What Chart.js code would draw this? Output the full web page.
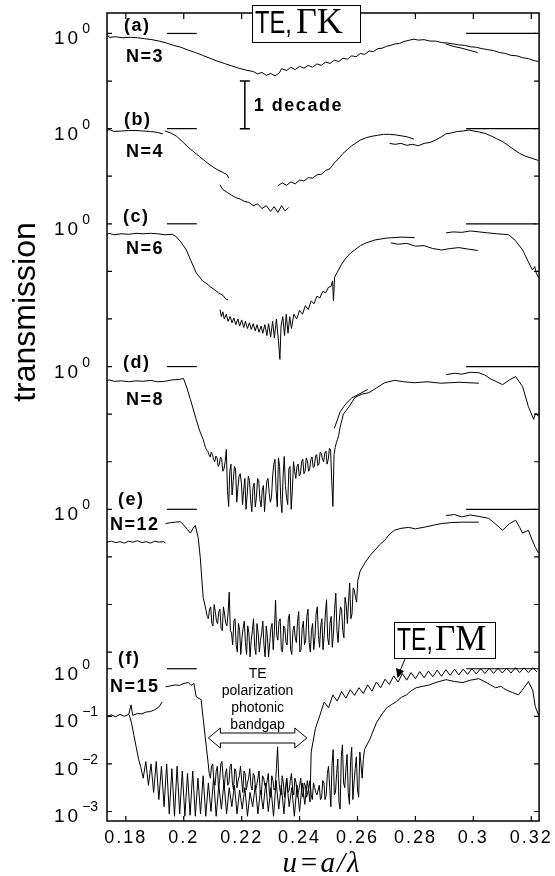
<!DOCTYPE html>
<html>
<head>
<meta charset="utf-8">
<script src="https://cdn.jsdelivr.net/npm/chart.js@4.4.1/dist/chart.umd.min.js"></script>
<style>
  html, body { margin: 0; padding: 0; background: #fff; }
  canvas { display: block; background: #fff; }
</style>
</head>
<body>
<canvas id="myChart" width="555" height="876"></canvas>
<script>
// x axis: normalized frequency u = a/lambda
const xTickVals = [0.18, 0.2, 0.22, 0.24, 0.26, 0.28, 0.3, 0.32];
// y axis is log10(transmission); each panel is shifted by whole decades
const panelTags = ['(a)', '(b)', '(c)', '(d)', '(e)', '(f)'];
const panelN = ['N=3', 'N=4', 'N=6', 'N=8', 'N=12', 'N=15'];
const panelBase = [13.35, 11.35, 9.35, 6.35, 3.35, 0];
const yTickVals = [-3, -2, -1, 0, 0.35, 1.35, 2.35, 3.35, 4.35, 5.35, 6.35, 7.35, 8.35, 9.35, 10.35, 11.35, 12.35, 13.35];
const yLabelVals = [-3, -2, -1, 0, 3.35, 6.35, 9.35, 11.35, 13.35];
const yLabelExp = ['\u22123', '\u22122', '\u22121', '0', '0', '0', '0', '0', '0'];
// short marks at 10^0 in every panel
const refLeft = [0.1942, 0.2045];
const refRight = [0.2975, 0.3215];

// (a) N=3
const aK1 = [[0.1735,-0.02],[0.1742,-0.08],[0.1765,-0.07],[0.179,-0.09],[0.1815,-0.08],[0.184,-0.09],[0.1865,-0.11],[0.189,-0.13],[0.1915,-0.16],[0.194,-0.20],[0.1965,-0.25],[0.199,-0.29],[0.2015,-0.35],[0.204,-0.40],[0.2065,-0.46],[0.209,-0.52],[0.2115,-0.58],[0.214,-0.63],[0.2165,-0.68],[0.219,-0.73],[0.2215,-0.77],[0.224,-0.80],[0.2255,-0.85],[0.227,-0.82],[0.2285,-0.88],[0.230,-0.84],[0.2315,-0.89],[0.233,-0.83],[0.2338,-0.74],[0.2355,-0.78],[0.237,-0.71],[0.2385,-0.76],[0.240,-0.69],[0.2415,-0.73],[0.243,-0.67],[0.2445,-0.71],[0.246,-0.64],[0.2475,-0.67],[0.249,-0.60],[0.2505,-0.63],[0.252,-0.56],[0.2535,-0.59],[0.255,-0.52],[0.2565,-0.54],[0.258,-0.47],[0.2595,-0.49],[0.261,-0.42],[0.2625,-0.44],[0.264,-0.37],[0.2655,-0.38],[0.267,-0.32],[0.2685,-0.31],[0.270,-0.27],[0.2715,-0.25],[0.273,-0.22],[0.2745,-0.21],[0.276,-0.17],[0.278,-0.14],[0.2795,-0.12],[0.281,-0.14],[0.283,-0.13],[0.285,-0.16],[0.287,-0.16],[0.289,-0.19],[0.291,-0.20],[0.293,-0.22],[0.295,-0.24],[0.297,-0.25],[0.299,-0.28],[0.301,-0.29],[0.303,-0.32],[0.305,-0.34],[0.307,-0.36],[0.309,-0.40],[0.311,-0.42],[0.313,-0.46],[0.315,-0.47],[0.317,-0.51],[0.319,-0.53],[0.321,-0.57],[0.3225,-0.59]];
const aK2 = [[0.2905,-0.22],[0.293,-0.27],[0.296,-0.31],[0.299,-0.36],[0.3015,-0.40]];

// (b) N=4
const bK1 = [[0.1735,-0.05],[0.1742,-0.02],[0.176,-0.06],[0.1785,-0.05],[0.181,-0.04],[0.1835,-0.04],[0.186,-0.05],[0.1885,-0.06],[0.191,-0.08],[0.1928,-0.11]];
const bK2 = [[0.1935,-0.05],[0.1955,-0.09],[0.1975,-0.16],[0.1995,-0.27],[0.2015,-0.39],[0.2035,-0.49],[0.2055,-0.59],[0.2075,-0.69],[0.2095,-0.78],[0.2115,-0.86],[0.2135,-0.92],[0.215,-0.97],[0.2155,-1.04]];
const bK3 = [[0.2125,-1.18],[0.2135,-1.28],[0.215,-1.34],[0.2165,-1.40],[0.218,-1.45],[0.2195,-1.48],[0.221,-1.53],[0.2225,-1.55],[0.224,-1.62],[0.2255,-1.58],[0.227,-1.68],[0.2285,-1.62],[0.230,-1.74],[0.2312,-1.64],[0.2325,-1.76],[0.2338,-1.62],[0.235,-1.73],[0.2362,-1.66]];
const bK4 = [[0.2325,-1.20],[0.234,-1.14],[0.2355,-1.19],[0.237,-1.12],[0.2385,-1.16],[0.240,-1.08],[0.2415,-1.10],[0.243,-1.03],[0.2445,-1.04],[0.246,-0.97],[0.2475,-0.96],[0.249,-0.88],[0.2505,-0.84],[0.252,-0.72],[0.2535,-0.63],[0.255,-0.52],[0.2565,-0.44],[0.258,-0.36],[0.2595,-0.30],[0.261,-0.24],[0.263,-0.19],[0.265,-0.16],[0.267,-0.14],[0.269,-0.12],[0.271,-0.12],[0.273,-0.13],[0.275,-0.15],[0.277,-0.17],[0.2795,-0.22]];
const bK5 = [[0.2711,-0.31],[0.273,-0.33],[0.275,-0.31],[0.277,-0.35],[0.279,-0.33],[0.281,-0.36],[0.283,-0.31],[0.285,-0.29],[0.287,-0.24],[0.289,-0.17],[0.2905,-0.11],[0.2925,-0.09],[0.2945,-0.06],[0.2965,-0.05],[0.2985,-0.03],[0.300,-0.05],[0.302,-0.07],[0.304,-0.10],[0.306,-0.15],[0.308,-0.21],[0.310,-0.27],[0.312,-0.35],[0.314,-0.44],[0.316,-0.52],[0.318,-0.58],[0.320,-0.62],[0.3225,-0.67]];

// (c) N=6
const cK1 = [[0.1735,-0.23],[0.1742,-0.20],[0.176,-0.23],[0.1785,-0.21],[0.181,-0.22],[0.1835,-0.20],[0.186,-0.21],[0.1885,-0.20],[0.191,-0.21],[0.1935,-0.23],[0.196,-0.22],[0.1972,-0.26],[0.199,-0.38],[0.2009,-0.55],[0.2025,-0.78],[0.2043,-1.03],[0.2065,-1.20],[0.208,-1.26],[0.2091,-1.32],[0.2105,-1.38],[0.212,-1.45],[0.2135,-1.50],[0.2145,-1.58],[0.2153,-1.60]];
const cK2 = [[0.2125,-1.80],[0.2130,-1.95],[0.2135,-1.85],[0.2140,-2.00],[0.2147,-1.90],[0.2153,-2.05],[0.2160,-1.95],[0.2167,-2.08],[0.2173,-1.98],[0.2180,-2.12],[0.2187,-2.00],[0.2193,-2.15],[0.2200,-2.02],[0.2207,-2.18],[0.2213,-2.05],[0.2220,-2.20],[0.2227,-2.08],[0.2233,-2.22],[0.2240,-2.10],[0.2247,-2.25],[0.2253,-2.12],[0.2260,-2.28],[0.2267,-2.15],[0.2273,-2.30],[0.2280,-2.12],[0.2287,-2.35],[0.2293,-2.10],[0.2300,-2.38],[0.2307,-2.05],[0.2313,-2.40],[0.2320,-2.00],[0.2327,-2.45],[0.2332,-2.85],[0.2336,-2.15],[0.2342,-1.95],[0.2348,-2.35],[0.2354,-1.90],[0.2360,-2.30],[0.2366,-1.95],[0.2372,-2.20],[0.2380,-1.90],[0.2390,-2.00],[0.2400,-1.82],[0.2410,-1.90],[0.2420,-1.72],[0.2430,-1.80],[0.2440,-1.62],[0.2450,-1.68],[0.2460,-1.52],[0.2470,-1.56],[0.2480,-1.42],[0.2490,-1.45],[0.2500,-1.33],[0.2508,-1.32],[0.2514,-1.20],[0.2517,-1.62],[0.2521,-1.12],[0.2530,-1.02],[0.2545,-0.85],[0.2560,-0.72],[0.2575,-0.62],[0.2590,-0.55],[0.2610,-0.46],[0.2630,-0.40],[0.2660,-0.34],[0.2700,-0.30],[0.2750,-0.28],[0.2797,-0.29]];
const cK3 = [[0.2715,-0.40],[0.274,-0.43],[0.277,-0.41],[0.280,-0.47],[0.283,-0.46],[0.286,-0.52],[0.289,-0.55],[0.292,-0.52],[0.295,-0.50],[0.298,-0.53],[0.3015,-0.56]];
const cK4 = [[0.2906,-0.19],[0.293,-0.17],[0.296,-0.18],[0.299,-0.15],[0.302,-0.17],[0.305,-0.19],[0.308,-0.21],[0.3105,-0.22],[0.3122,-0.23],[0.3145,-0.35],[0.317,-0.55],[0.319,-0.80],[0.3204,-0.97],[0.3212,-0.90],[0.3218,-1.05],[0.3225,-1.13]];

// (d) N=8
const dK1 = [[0.1735,-0.31],[0.1742,-0.28],[0.176,-0.31],[0.1785,-0.30],[0.181,-0.32],[0.1835,-0.30],[0.186,-0.31],[0.1885,-0.29],[0.191,-0.32],[0.1935,-0.31],[0.196,-0.28],[0.1985,-0.27],[0.1999,-0.25],[0.2011,-0.45],[0.2023,-0.69],[0.2043,-1.11],[0.2055,-1.35]];
const dNoiseStart = 0.2067, dNoiseStep = 0.0008;
const dNoise = [-1.53,-1.70,-1.78,-1.90,-1.85,-2.00,-1.92,-2.05,-1.95,-2.15,-1.74,
  -2.94,-2.05,-2.40,-2.15,-2.55,-2.25,-2.90,-2.35,-2.70,-2.40,
  -3.05,-2.45,-2.75,-2.40,-2.95,-2.50,-2.70,-2.35,-2.85,-2.30,
  -1.95,-2.95,-2.10,-3.07,-1.89,-2.75,-2.15,-3.00,-2.00,-2.35,
  -2.05,-2.25,-1.95,-2.20,-1.98,-2.15,-1.90,-2.10,-1.85,-2.05,
  -1.82,-2.00,-1.78,-1.95,-1.75,-2.94,-1.70,-1.53,-1.30,-1.11];
const dNoise2 = [-1.62,-1.75,-1.85,-1.80,-1.95,-1.88,-2.10,-1.90,-2.20,-2.00,-2.60,
  -2.20,-2.70,-2.10,-2.85,-2.30,-2.45,-2.60,-3.00,-2.30,-2.80,
  -2.55,-2.95,-2.35,-2.80,-2.60,-3.05,-2.40,-2.65,-2.75,-2.05,
  -2.60,-1.92,-2.80,-2.30,-2.50,-2.90,-2.10,-2.60,-2.20,-2.10,
  -2.30,-2.00,-2.25,-1.92,-2.20,-1.95,-2.12,-1.88,-2.08,-1.80,
  -1.95,-1.82,-2.05,-1.72,-2.40,-1.85,-1.60,-1.45,-1.20,-1.00];
const dK2 = [[0.2570,-0.85],[0.2591,-0.65],[0.2615,-0.58],[0.2639,-0.55],[0.2665,-0.45],[0.2694,-0.34],[0.2728,-0.29],[0.276,-0.32],[0.2797,-0.34],[0.284,-0.32],[0.2889,-0.35],[0.295,-0.33],[0.3019,-0.35]];
const dK3 = [[0.2520,-1.30],[0.2540,-0.95],[0.2560,-0.78],[0.2580,-0.66],[0.2605,-0.58],[0.2635,-0.48]];
const dK4 = [[0.2906,-0.17],[0.2935,-0.14],[0.296,-0.16],[0.299,-0.12],[0.3019,-0.13],[0.304,-0.18],[0.306,-0.26],[0.3101,-0.38],[0.3125,-0.28],[0.3146,-0.21],[0.317,-0.42],[0.319,-0.84],[0.3208,-1.11],[0.3215,-0.98],[0.3225,-1.05]];

// (e) N=12
const eK1 = [[0.1735,-0.69],[0.175,-0.67],[0.1765,-0.70],[0.178,-0.68],[0.1795,-0.71],[0.181,-0.67],[0.1825,-0.69],[0.184,-0.66],[0.1855,-0.70],[0.187,-0.68],[0.1885,-0.71],[0.190,-0.67],[0.1915,-0.69],[0.193,-0.68],[0.1937,-0.71]];
const eK2 = [[0.1937,-0.30],[0.1955,-0.28],[0.197,-0.27],[0.1988,-0.26],[0.2000,-0.33],[0.2012,-0.42],[0.2023,-0.50],[0.2032,-0.40],[0.2040,-0.34],[0.2050,-0.60],[0.2057,-1.01],[0.2067,-1.85]];
const eNoiseStart = 0.2077, eNoiseStep = 0.0008;
const eNoise = [-2.12,-2.30,-2.05,-2.45,-2.15,-2.40,-2.10,-2.55,-2.20,-2.45,-1.74,
  -2.60,-2.35,-2.85,-2.40,-3.05,-2.50,-2.80,-2.45,-3.10,-2.55,
  -2.90,-2.40,-3.00,-2.60,-2.85,-2.45,-3.10,-2.50,-2.95,-1.91,
  -2.75,-2.30,-3.00,-2.50,-2.85,-2.20,-3.05,-2.45,-2.80,-2.15,
  -2.95,-2.35,-2.75,-2.10,-3.00,-2.40,-2.70,-2.05,-2.90,-2.30,
  -2.65,-1.90,-2.85,-2.25,-2.60,-1.76,-2.80,-2.05,-2.55,-1.85,
  -2.40,-1.55,-2.20,-1.70,-1.95,-1.40];
const eNoise2 = [-2.25,-2.10,-2.40,-2.00,-2.35,-2.15,-2.50,-2.05,-2.40,-2.20,-2.55,
  -2.85,-2.30,-3.00,-2.55,-2.70,-2.35,-3.05,-2.60,-2.75,-2.30,
  -3.05,-2.60,-2.75,-2.35,-3.10,-2.70,-2.80,-2.40,-2.55,-2.65,
  -2.35,-2.95,-2.45,-2.80,-2.30,-2.95,-2.55,-2.70,-2.35,-3.00,
  -2.50,-2.85,-2.25,-2.80,-2.55,-2.95,-2.20,-2.65,-2.45,-2.95,
  -2.20,-2.70,-2.40,-2.90,-2.10,-2.55,-2.35,-2.10,-2.70,-2.00,
  -1.95,-2.30,-1.65,-1.85,-1.50,-1.30];
const eK3 = [[0.2625,-1.13],[0.2642,-0.98],[0.2660,-0.86],[0.2677,-0.74],[0.2694,-0.65],[0.2711,-0.52],[0.2728,-0.44],[0.2750,-0.40],[0.2776,-0.38],[0.280,-0.41],[0.2835,-0.37],[0.2865,-0.33],[0.2889,-0.30],[0.292,-0.28],[0.296,-0.27],[0.3019,-0.27]];
const eK4 = [[0.2906,-0.13],[0.2935,-0.11],[0.296,-0.16],[0.299,-0.12],[0.302,-0.15],[0.3053,-0.19],[0.3075,-0.30],[0.3101,-0.44],[0.3125,-0.30],[0.3146,-0.23],[0.316,-0.38],[0.317,-0.50],[0.319,-0.44],[0.320,-0.60],[0.3214,-0.80],[0.3225,-0.92]];

// (f) N=15, Gamma-K
const fK1 = [[0.1735,-1.00],[0.175,-0.97],[0.1765,-1.01],[0.178,-0.96],[0.1795,-1.00],[0.181,-0.96],[0.1818,-0.76],[0.1824,-0.98],[0.184,-0.94],[0.1855,-0.95],[0.187,-0.91],[0.1885,-0.90],[0.190,-0.86],[0.1915,-0.80],[0.1925,-0.70]];
const fK2 = [[0.1937,-0.38],[0.1955,-0.36],[0.197,-0.34],[0.1985,-0.35],[0.200,-0.31],[0.2016,-0.29],[0.2025,-0.35],[0.2035,-0.31],[0.2043,-0.59],[0.2060,-0.65],[0.2074,-1.43]];
const fNoiseStart = 0.2084, fNoiseStep = 0.0008;
const fNoise = [-1.97,-2.30,-2.00,-2.45,-2.05,-2.35,-1.95,-2.50,-2.10,-2.40,
  -2.00,-2.55,-2.15,-2.35,-2.05,-2.60,-2.20,-2.40,-2.10,-2.55,
  -2.25,-2.45,-2.15,-2.65,-2.30,-2.50,-2.20,-2.70,-2.35,-2.50,
  -1.64,-2.55,-2.25,-2.70,-2.30,-2.55,-2.20,-2.65,-2.40,-2.60,
  -2.30,-2.70,-2.45,-2.60,-2.35,-2.75,-2.50,-2.65,-2.45,-2.70,
  -2.40,-2.65,-2.05,-2.90,-1.70,-2.60,-1.90,-2.95,-1.60,-2.50,
  -1.80,-2.85,-1.65,-2.40,-1.85,-2.70,-2.00,-1.91];
const fNoise2 = [-2.20,-2.05,-2.35,-2.15,-2.50,-2.00,-2.30,-2.20,-2.45,-2.05,
  -2.40,-2.10,-2.50,-2.25,-2.35,-2.15,-2.55,-2.30,-2.45,-2.20,
  -2.55,-2.30,-2.60,-2.25,-2.45,-2.35,-2.65,-2.25,-2.55,-2.10,
  -2.30,-2.65,-2.40,-2.50,-2.60,-2.35,-2.55,-2.30,-2.70,-2.45,
  -2.60,-2.40,-2.70,-2.50,-2.65,-2.40,-2.60,-2.55,-2.75,-2.35,
  -2.75,-2.20,-2.50,-2.00,-2.65,-2.20,-2.80,-1.85,-2.40,-2.10,
  -2.60,-1.95,-2.75,-2.10,-2.55,-1.75,-2.30,-1.70];
const fK3 = [[0.2642,-1.49],[0.2666,-1.13],[0.2685,-0.95],[0.2701,-0.82],[0.2718,-0.75],[0.2735,-0.69],[0.2752,-0.60],[0.2769,-0.55],[0.2786,-0.46],[0.2803,-0.40],[0.2825,-0.37],[0.2848,-0.34],[0.2875,-0.28],[0.2906,-0.23],[0.2935,-0.27],[0.2964,-0.29],[0.299,-0.24],[0.3019,-0.21],[0.3048,-0.30],[0.3077,-0.40],[0.3095,-0.37],[0.3112,-0.44],[0.3135,-0.50],[0.3156,-0.55],[0.3175,-0.40],[0.319,-0.27],[0.3205,-0.45],[0.3214,-0.80],[0.3225,-0.97]];

// (f) N=15, Gamma-M
const fM1 = [[0.1812,-0.97],[0.1820,-1.15],[0.1828,-1.40],[0.1836,-1.65],[0.1844,-1.90],[0.1851,-2.05]];
const fCombStart = 0.1860, fCombStep = 0.0009;
const fComb = [-2.30,-1.95,-2.45,-2.00,-2.60,-1.95,-2.75,-2.05,-2.90,-2.00,
  -3.05,-2.10,-3.10,-2.05,-3.05,-2.15,-3.10,-2.20,-3.08,-2.15,
  -3.10,-2.30,-3.05,-2.25,-3.10,-2.40,-3.00,-2.30,-3.10,-2.45,
  -2.95,-2.40,-3.05,-2.50,-2.90,-2.45,-3.05,-2.55,-2.95,-2.50,
  -3.10,-2.60,-2.90,-2.45,-3.05,-2.55,-2.95,-2.40,-3.00,-2.50,
  -3.10,-2.35,-2.95,-2.45,-3.05,-2.30,-2.90,-2.50,-3.10,-2.45,
  -3.00,-2.40,-2.85,-2.35,-2.80];
const fM2 = [[0.2440,-1.75],[0.2455,-1.25],[0.2470,-0.98],[0.2485,-0.70],[0.2500,-0.82],[0.2515,-0.55],[0.2530,-0.68],[0.2545,-0.48],[0.2560,-0.62],[0.2575,-0.44],[0.2590,-0.56],[0.2605,-0.40],[0.2620,-0.52],[0.2635,-0.34],[0.2650,-0.47],[0.2665,-0.28],[0.2680,-0.40],[0.2695,-0.22],[0.2710,-0.33],[0.2725,-0.15],[0.2740,-0.28],[0.2755,-0.10],[0.2770,-0.24],[0.2785,-0.08],[0.2800,-0.21],[0.2815,-0.06],[0.2830,-0.19],[0.2845,-0.05],[0.2860,-0.17],[0.2875,-0.03],[0.2890,-0.16],[0.2905,-0.02],[0.2920,-0.14],[0.2935,-0.01],[0.2950,-0.13],[0.2965,-0.01],[0.2980,-0.12],[0.2995,0.00],[0.3010,-0.11],[0.3025,0.00],[0.3040,-0.10],[0.3055,0.01],[0.3070,-0.10],[0.3085,0.01],[0.3100,-0.09],[0.3115,0.01],[0.3130,-0.09],[0.3145,0.02],[0.3160,-0.08],[0.3175,0.02],[0.3190,-0.08],[0.3205,0.02],[0.3220,-0.07]];

function grid(x0, dx, vals) {
  return vals.map((v, i) => [x0 + i * dx, v]);
}

// two noise records sampled half a step apart, merged in x order
function interleave(x0, dx, first, second) {
  const out = [];
  first.forEach((v, i) => {
    out.push([x0 + i * dx, v]);
    if (i < second.length) out.push([x0 + i * dx + dx / 2, second[i]]);
  });
  return out;
}

const panelCurves = [
  [aK1, aK2],
  [bK1, bK2, bK3, bK4, bK5],
  [cK1, cK2, cK3, cK4],
  [dK1.concat(interleave(dNoiseStart, dNoiseStep, dNoise, dNoise2), dK2), dK3, dK4],
  [eK1, eK2.concat(interleave(eNoiseStart, eNoiseStep, eNoise, eNoise2), eK3), eK4],
  [fK1, fK2.concat(interleave(fNoiseStart, fNoiseStep, fNoise, fNoise2), fK3), fM1.concat(grid(fCombStart, fCombStep, fComb), fM2)]
];

const SANS = '"Liberation Sans", Arial, sans-serif';
const SERIF = '"Liberation Serif", "Times New Roman", serif';

function lineSet(points, base, width) {
  return {
    data: points.map(p => ({ x: p[0], y: p[1] + base })),
    showLine: true,
    borderColor: '#000',
    borderWidth: width,
    pointRadius: 0,
    fill: false,
    tension: 0
  };
}

function buildDatasets() {
  const sets = [];
  panelCurves.forEach((list, i) => {
    list.forEach(c => sets.push(lineSet(c, panelBase[i], 1)));
    sets.push(lineSet([[refLeft[0], 0], [refLeft[1], 0]], panelBase[i], 1.2));
    sets.push(lineSet([[refRight[0], 0], [refRight[1], 0]], panelBase[i], 1.2));
  });
  return sets;
}

function compressedText(ctx, text, x, y, sx) {
  ctx.save();
  ctx.translate(x, y);
  ctx.scale(sx, 1);
  ctx.fillText(text, 0, 0);
  ctx.restore();
}

const decor = {
  id: 'decor',
  beforeDraw(chart) { chart.ctx.letterSpacing = '2px'; },
  beforeDatasetsDraw(chart) { chart.ctx.letterSpacing = '0px'; },
  afterDraw(chart) {
    const { ctx, chartArea: a } = chart;
    const x = chart.scales.x, y = chart.scales.y;
    ctx.save();
    ctx.strokeStyle = '#000';
    ctx.fillStyle = '#000';
    ctx.letterSpacing = '0px';

    // frame and inward ticks
    ctx.lineWidth = 1.5;
    ctx.strokeRect(a.left, a.top, a.right - a.left, a.bottom - a.top);
    ctx.lineWidth = 1.2;
    ctx.beginPath();
    xTickVals.forEach(v => {
      const px = x.getPixelForValue(v);
      ctx.moveTo(px, a.bottom); ctx.lineTo(px, a.bottom - 5);
      ctx.moveTo(px, a.top); ctx.lineTo(px, a.top + 6);
    });
    yTickVals.forEach(v => {
      const py = y.getPixelForValue(v);
      ctx.moveTo(a.left, py); ctx.lineTo(a.left + 5, py);
      ctx.moveTo(a.right, py); ctx.lineTo(a.right - 5, py);
    });
    ctx.stroke();

    // 10^n labels
    ctx.textAlign = 'left';
    ctx.textBaseline = 'alphabetic';
    yLabelVals.forEach((v, i) => {
      const py = y.getPixelForValue(v);
      ctx.font = '19px ' + SANS;
      ctx.letterSpacing = '3px';
      ctx.fillText('10', 54, py + 11);
      const w = ctx.measureText('10').width;
      ctx.font = '14px ' + SANS;
      ctx.letterSpacing = '0px';
      ctx.fillText(yLabelExp[i], 54 + w + 1, py);
    });

    // panel tags and N labels
    const tagPos = [[124, -8, 126, 23], [124, -10, 126, 22], [123, -8, 126, 24], [123, -5, 126, 32], [118, -10, 110, 15], [118, -11, 110, 17]];
    ctx.font = 'bold 18px ' + SANS;
    ctx.textBaseline = 'middle';
    ctx.letterSpacing = '1.5px';
    panelTags.forEach((t, i) => {
      const py = y.getPixelForValue(panelBase[i]);
      const p = tagPos[i];
      ctx.fillText(t, p[0], py + p[1] + 1);
      ctx.fillText(panelN[i], p[2], py + p[3] + 1);
    });

    // one decade scale bar
    const bx = x.getPixelForValue(0.2211);
    const by1 = y.getPixelForValue(12.35), by2 = y.getPixelForValue(11.35);
    ctx.lineWidth = 1.5;
    ctx.beginPath();
    ctx.moveTo(bx, by1); ctx.lineTo(bx, by2);
    ctx.moveTo(bx - 5, by1); ctx.lineTo(bx + 5, by1);
    ctx.moveTo(bx - 5, by2); ctx.lineTo(bx + 5, by2);
    ctx.stroke();
    ctx.fillText('1 decade', bx + 9, (by1 + by2) / 2 + 1);

    // TE, Gamma-K box
    ctx.letterSpacing = '0px';
    ctx.textBaseline = 'alphabetic';
    ctx.lineWidth = 1;
    ctx.fillStyle = '#fff';
    ctx.fillRect(252, 5, 108, 37);
    ctx.strokeRect(252.5, 5.5, 108, 37);
    ctx.fillStyle = '#000';
    ctx.font = '32px ' + SANS;
    compressedText(ctx, 'TE,', 255, 33, 0.74);
    ctx.font = '36px ' + SERIF;
    ctx.fillText('\u0393K', 296, 33);

    // TE, Gamma-M box with arrow
    ctx.fillStyle = '#fff';
    ctx.fillRect(394, 622, 101, 36);
    ctx.strokeRect(394.5, 622.5, 101, 36);
    ctx.fillStyle = '#000';
    ctx.font = '32px ' + SANS;
    compressedText(ctx, 'TE,', 397, 650, 0.72);
    ctx.font = '35px ' + SERIF;
    ctx.fillText('\u0393M', 435, 650);
    ctx.beginPath();
    ctx.moveTo(405, 659); ctx.lineTo(400, 671);
    ctx.stroke();
    ctx.beginPath();
    ctx.moveTo(397.5, 678); ctx.lineTo(396, 668); ctx.lineTo(404, 671); ctx.closePath();
    ctx.fill();

    // bandgap arrow annotation
    const gx1 = x.getPixelForValue(0.2085), gx2 = x.getPixelForValue(0.2425);
    const gy = 738;
    ctx.fillStyle = '#fff';
    ctx.beginPath();
    ctx.moveTo(gx1, gy);
    ctx.lineTo(gx1 + 12, gy - 10); ctx.lineTo(gx1 + 12, gy - 5);
    ctx.lineTo(gx2 - 12, gy - 5); ctx.lineTo(gx2 - 12, gy - 10);
    ctx.lineTo(gx2, gy);
    ctx.lineTo(gx2 - 12, gy + 10); ctx.lineTo(gx2 - 12, gy + 5);
    ctx.lineTo(gx1 + 12, gy + 5); ctx.lineTo(gx1 + 12, gy + 10);
    ctx.closePath();
    ctx.fill();
    ctx.stroke();
    ctx.fillStyle = '#000';
    ctx.font = '14px ' + SANS;
    ctx.textAlign = 'center';
    const gc = (gx1 + gx2) / 2;
    ctx.fillText('TE', gc, 678);
    ctx.fillText('polarization', gc, 695);
    ctx.fillText('photonic', gc, 712);
    ctx.fillText('bandgap', gc, 729);

    // axis titles
    ctx.font = 'italic 29px ' + SERIF;
    ctx.letterSpacing = '2px';
    ctx.fillText('u=a/\u03bb', 322, 872);
    ctx.letterSpacing = '0px';
    ctx.save();
    ctx.translate(35, 312);
    ctx.rotate(-Math.PI / 2);
    ctx.font = '32px ' + SANS;
    ctx.fillText('transmission', 0, 0);
    ctx.restore();

    ctx.restore();
  }
};

function initChart() {
  const ctx = document.getElementById('myChart');
  return new Chart(ctx, {
    type: 'scatter',
    data: { datasets: buildDatasets() },
    options: {
      responsive: false,
      animation: false,
      layout: { padding: { top: 13, right: 12, left: 0, bottom: 0 } },
      plugins: { legend: { display: false }, tooltip: { enabled: false } },
      scales: {
        x: {
          type: 'linear',
          min: 0.1735,
          max: 0.3227,
          grid: { display: false, drawTicks: false },
          border: { display: false },
          afterBuildTicks: s => { s.ticks = xTickVals.map(v => ({ value: v })); },
          afterFit: s => { s.height = 55; },
          ticks: {
            autoSkip: false,
            maxRotation: 0,
            padding: 6,
            color: '#000',
            font: { family: SANS, size: 18 },
            callback: v => String(Number(v.toFixed(2)))
          }
        },
        y: {
          type: 'linear',
          min: -3.2,
          max: 13.78,
          grid: { display: false, drawTicks: false },
          border: { display: false },
          ticks: { display: false },
          afterFit: s => { s.width = 107; }
        }
      }
    },
    plugins: [decor]
  });
}

document.addEventListener('DOMContentLoaded', () => initChart());
</script>
</body>
</html>
